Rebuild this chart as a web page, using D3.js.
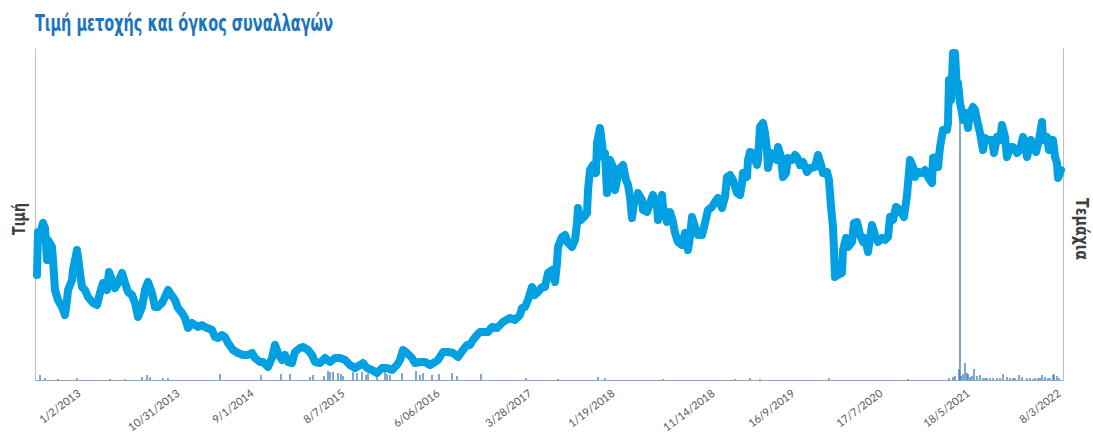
<!DOCTYPE html>
<html><head><meta charset="utf-8">
<script src="https://cdn.jsdelivr.net/npm/d3@7/dist/d3.min.js"></script>
<style>
html,body{margin:0;padding:0;background:#fff;}
svg{display:block;}
</style></head>
<body>
<svg id="chart" width="1093" height="433"></svg>
<script>
const titleText = "Τιμή μετοχής και όγκος συναλλαγών";
const leftAxisTitle = "Τιμή";
const rightAxisTitle = "Τεμάχια";

const tickLabels = ["1/2/2013","10/31/2013","9/1/2014","8/7/2015","6/06/2016","3/28/2017","1/19/2018","11/14/2018","16/9/2019","17/7/2020","18/5/2021","8/3/2022"];
const tickIndex = [44,143,217,308,403,495,578,678,758,846,933,1024];

// [observation index, share price]
const priceSeries = [[0,5.25],[1,7.40],[3,7.25],[6,7.85],[8,7.60],[10,6.00],[11,7.00],[15,6.65],[16,6.00],[18,4.50],[21,4.00],[25,3.65],[28,3.25],[30,4.00],[31,4.50],[35,5.00],[36,5.50],[40,6.50],[41,6.15],[43,5.35],[45,4.65],[48,4.50],[51,4.15],[56,3.85],[60,3.75],[63,4.35],[66,4.85],[70,4.50],[72,5.40],[75,5.00],[78,4.60],[81,4.85],[85,5.35],[88,4.85],[91,4.40],[95,4.25],[98,3.85],[101,3.15],[105,3.65],[108,4.50],[111,4.90],[115,4.35],[118,3.65],[121,3.65],[125,3.85],[128,4.15],[131,4.50],[138,4.00],[141,3.60],[145,3.35],[148,3.10],[151,2.60],[155,2.85],[158,2.75],[161,2.65],[165,2.75],[168,2.65],[175,2.50],[178,2.15],[181,2.10],[185,2.25],[188,2.15],[191,1.85],[196,1.50],[201,1.35],[206,1.25],[211,1.25],[215,1.35],[218,1.10],[223,0.90],[226,0.90],[231,0.65],[235,1.10],[238,1.75],[241,1.35],[245,1.00],[248,1.25],[251,0.90],[255,0.85],[258,1.40],[263,1.60],[266,1.65],[271,1.50],[275,1.25],[278,0.90],[283,0.85],[288,1.10],[293,0.90],[298,1.10],[303,1.10],[308,1.00],[313,0.75],[318,0.60],[323,0.75],[326,0.85],[330,0.60],[335,0.50],[340,0.35],[345,0.60],[350,0.60],[355,0.50],[360,0.75],[363,1.00],[366,1.50],[370,1.35],[375,1.10],[378,0.85],[383,0.90],[388,0.90],[393,0.75],[398,0.90],[401,1.00],[406,1.40],[411,1.40],[416,1.35],[421,1.15],[426,1.50],[430,1.75],[433,1.75],[436,2.00],[440,2.25],[443,2.40],[446,2.40],[451,2.40],[455,2.65],[460,2.60],[466,2.90],[473,3.10],[478,3.00],[483,3.25],[485,3.60],[488,3.65],[491,4.00],[495,4.65],[498,4.25],[501,4.40],[505,4.65],[508,4.65],[511,5.35],[515,5.50],[518,4.90],[520,5.85],[521,6.65],[525,7.15],[528,7.25],[531,6.85],[535,6.65],[538,7.00],[540,7.85],[541,8.60],[544,8.00],[547,8.15],[550,8.35],[551,9.50],[553,10.50],[556,10.75],[559,10.35],[560,11.85],[563,12.60],[565,11.85],[566,11.15],[568,11.35],[570,9.35],[571,10.50],[573,11.00],[576,10.65],[578,9.50],[580,10.00],[583,10.60],[586,10.75],[589,10.00],[591,9.75],[593,9.15],[595,8.10],[597,8.85],[600,9.00],[601,9.35],[605,9.00],[606,8.50],[610,8.40],[613,8.85],[616,9.25],[620,8.65],[621,8.00],[625,9.25],[626,8.65],[630,7.90],[633,8.40],[636,7.90],[638,7.35],[641,6.90],[645,6.75],[648,7.35],[651,6.50],[653,7.15],[655,8.15],[658,7.65],[661,7.25],[665,7.25],[668,7.85],[671,8.50],[675,8.65],[678,8.90],[681,9.10],[685,8.60],[688,9.15],[690,10.15],[693,10.25],[696,10.00],[700,9.35],[703,9.25],[705,9.85],[706,10.35],[710,10.15],[711,11.00],[713,11.40],[716,11.35],[720,10.75],[721,11.00],[723,12.65],[726,12.85],[728,12.35],[730,11.50],[731,10.60],[734,11.35],[736,11.15],[740,11.00],[741,11.65],[744,11.15],[746,10.15],[749,10.35],[751,11.10],[755,11.00],[758,11.25],[760,11.15],[763,10.75],[766,10.90],[770,10.40],[773,10.60],[778,10.65],[781,11.25],[784,10.75],[786,10.35],[790,10.40],[792,10.00],[794,8.65],[796,7.65],[797,6.50],[798,5.15],[801,5.25],[805,5.35],[806,6.50],[809,7.10],[811,6.65],[815,6.90],[817,7.85],[820,7.90],[823,7.25],[826,6.90],[828,7.10],[831,6.40],[835,7.75],[838,7.25],[841,6.90],[845,7.10],[848,7.00],[851,7.15],[853,8.15],[856,8.00],[859,8.65],[863,8.50],[867,8.15],[870,9.25],[873,11.00],[876,10.65],[878,10.15],[881,10.40],[885,10.35],[888,10.50],[891,10.15],[895,9.85],[896,11.10],[900,11.15],[901,10.65],[903,11.65],[906,12.50],[910,12.50],[911,12.85],[912,15.00],[914,14.00],[915,15.00],[916,16.35],[918,16.35],[920,14.50],[921,14.85],[923,13.85],[925,13.35],[926,13.00],[929,13.35],[931,12.60],[933,13.35],[936,13.65],[938,13.50],[940,13.00],[943,12.35],[946,11.50],[948,12.10],[951,12.00],[955,12.00],[957,11.35],[960,12.15],[963,12.00],[965,12.75],[968,12.15],[970,11.15],[973,11.65],[976,11.65],[980,11.35],[983,11.50],[986,12.15],[988,11.85],[990,11.15],[994,12.00],[996,11.65],[999,11.40],[1002,12.00],[1005,12.90],[1006,12.00],[1010,12.15],[1012,11.50],[1016,12.00],[1018,11.15],[1020,10.85],[1021,10.10],[1024,10.50]];

// [observation index, volume (thousand shares)]
const volumeSeries = [[3,50],[8,20],[21,10],[40,20],[73,10],[88,10],[105,30],[110,50],[113,30],[126,20],[131,20],[183,60],[224,50],[244,60],[253,60],[273,30],[276,50],[287,40],[291,90],[293,80],[296,80],[301,70],[304,60],[306,40],[316,80],[320,70],[325,80],[329,50],[331,70],[340,30],[348,80],[350,60],[353,50],[365,70],[379,90],[383,50],[386,70],[395,50],[402,60],[415,70],[420,40],[444,60],[489,20],[521,10],[561,30],[568,20],[626,10],[698,10],[713,20],[723,10],[792,20],[871,10],[912,20],[916,30],[918,40],[922,110],[923,2650],[924,40],[926,60],[928,170],[930,70],[931,60],[933,30],[935,40],[937,110],[940,40],[943,50],[946,20],[948,20],[950,20],[953,20],[956,20],[960,20],[963,20],[966,60],[970,30],[973,20],[976,20],[978,20],[982,50],[985,30],[990,20],[993,20],[996,10],[998,20],[1001,20],[1003,20],[1005,50],[1008,30],[1011,20],[1013,20],[1016,50],[1017,60],[1020,40],[1022,20]];

const svg = d3.select("#chart");
const plotLeft = 35, plotRight = 1063, plotTop = 48, plotBottom = 380;

const x = d3.scaleLinear().domain([-2, 1026]).range([plotLeft, plotRight]);
const yPrice = d3.scaleLinear().domain([0, 16.6]).range([plotBottom, plotTop]);
const yVol = d3.scaleLinear().domain([0, 3320]).range([plotBottom, plotTop]);

const condensed = "'Liberation Sans Narrow','DejaVu Sans Condensed','DejaVu Sans',sans-serif";

// title
svg.append("text")
  .attr("x", 35).attr("y", 31)
  .attr("font-family", condensed)
  .attr("font-weight", "bold").attr("font-size", 23)
  .attr("textLength", 298).attr("lengthAdjust", "spacingAndGlyphs")
  .attr("fill", "#1a75bb")
  .text(titleText);

// axes
const axisColor = "#bfbfbf";
svg.append("g").attr("transform", `translate(${plotLeft},0)`)
  .call(d3.axisLeft(yPrice).tickValues([]).tickSizeOuter(0))
  .call(g => g.select(".domain").attr("stroke", axisColor));
svg.append("g").attr("transform", `translate(${plotRight},0)`)
  .call(d3.axisRight(yVol).tickValues([]).tickSizeOuter(0))
  .call(g => g.select(".domain").attr("stroke", axisColor));

// volume bars
svg.append("g").selectAll("rect").data(volumeSeries).join("rect")
  .attr("x", d => x(d[0]) - 0.6)
  .attr("width", 1.2)
  .attr("y", d => yVol(d[1]))
  .attr("height", d => plotBottom - yVol(d[1]))
  .attr("fill", "#2a72b5");

const xAxis = svg.append("g").attr("transform", `translate(0,${plotBottom})`)
  .call(d3.axisBottom(x).tickValues(tickIndex).tickSize(0).tickSizeOuter(0)
    .tickFormat((d, i) => tickLabels[i]));
xAxis.select(".domain").attr("stroke", "#8fa9c4");
xAxis.selectAll("text")
  .attr("font-family", "Lato, 'Open Sans', sans-serif")
  .attr("font-size", 11)
  .attr("fill", "#595959")
  .attr("dy", null)
  .attr("y", 0)
  .attr("transform", "translate(0,15) rotate(-37)")
  .style("text-anchor", "end");

// price line
const line = d3.line().x(d => x(d[0])).y(d => yPrice(d[1]));
svg.append("path").datum(priceSeries)
  .attr("d", line)
  .attr("fill", "none")
  .attr("stroke", "#00a0e3")
  .attr("stroke-width", 8)
  .attr("stroke-linejoin", "round")
  .attr("stroke-linecap", "round");

// axis titles
svg.append("text")
  .attr("transform", "translate(25,219) rotate(-90)")
  .attr("text-anchor", "middle")
  .attr("font-family", condensed)
  .attr("font-weight", "bold").attr("font-size", 18)
  .attr("textLength", 32).attr("lengthAdjust", "spacingAndGlyphs")
  .attr("fill", "#404040")
  .text(leftAxisTitle);
svg.append("text")
  .attr("transform", "translate(1076,229) rotate(90)")
  .attr("text-anchor", "middle")
  .attr("font-family", condensed)
  .attr("font-weight", "bold").attr("font-size", 18)
  .attr("textLength", 62).attr("lengthAdjust", "spacingAndGlyphs")
  .attr("fill", "#404040")
  .text(rightAxisTitle);
</script>
</body></html>
